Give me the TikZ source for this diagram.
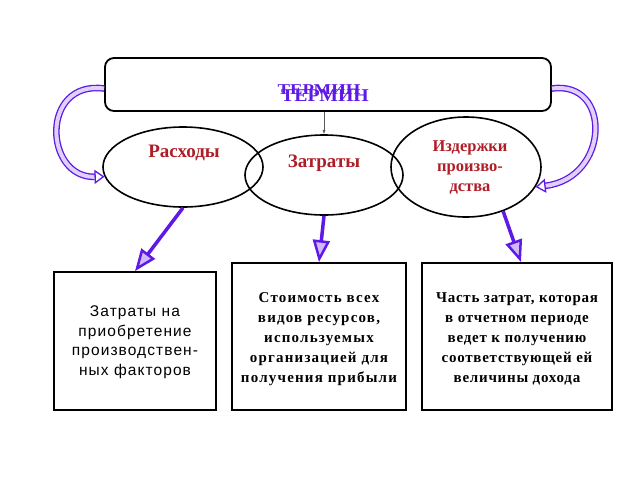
\documentclass[tikz,border=0pt]{standalone}
\usepackage{fontspec}
\setmainfont{Liberation Serif}
\newfontfamily\arialf{Liberation Sans}
\usetikzlibrary{shapes.geometric,arrows.meta}
\definecolor{apurple}{RGB}{95,25,230}
\definecolor{tred}{RGB}{175,30,40}
\tikzset{
  ell/.style={draw=black, line width=1.6pt, ellipse, inner sep=0pt},
  defbox/.style={draw=black, line width=1.8pt, inner sep=0pt},
  ovaltext/.style={text=tred, font=\bfseries\fontsize{19}{20}\selectfont, align=center},
  boxtext/.style={font=\bfseries\fontsize{15}{20}\selectfont, align=center, text=black},
  downarrow/.style={draw=apurple, line width=3.5pt, -{Triangle[length=22pt,width=17pt,fill=apurple!30,line width=2.5pt]}},
  curvedarrow/.style={draw=apurple, line width=1.3pt, double=apurple!20, double distance=4pt, -{Triangle[length=10pt,width=14pt,fill=white,line width=1.3pt]}},
  titletext/.style={text=apurple, inner sep=0pt},
}
\begin{document}
\begin{tikzpicture}[x=1pt,y=-1pt]
\useasboundingbox (0,0) rectangle (640,480);
% top box
\node[draw=black, line width=1.8pt, rounded corners=9pt, minimum width=446pt, minimum height=53pt, inner sep=0pt] (term) at (328,84.5) {};
\node[titletext, font=\bfseries\fontsize{15}{15}\selectfont] (t1) at (319,90) {\scalebox{1.25}[1]{ТЕРМИН}};
\node[titletext, font=\bfseries\fontsize{18}{18}\selectfont] (t2) at (325,96) {\scalebox{1.1}[1]{ТЕРМИН}};
% ellipses
\node[ell, minimum width=160pt, minimum height=80pt] (ras) at (183,167) {};
\node[ell, minimum width=158pt, minimum height=80pt] (zat) at (324,175) {};
\node[ell, minimum width=150pt, minimum height=100pt] (izd) at (466,167) {};
\node[ovaltext] (rast) at (184,153) {Расходы};
\node[ovaltext] (zatt) at (324,163) {Затраты};
\node[ovaltext, font=\bfseries\fontsize{16.5}{20}\selectfont] (izdt) at (470,167.5) {Издержки\\произво-\\дства};
% boxes
\node[defbox, minimum width=162pt, minimum height=138pt] (b1) at (135,341) {};
\node[defbox, minimum width=174pt, minimum height=147pt] (b2) at (319,336.5) {};
\node[defbox, minimum width=190pt, minimum height=147pt] (b3) at (517,336.5) {};
\node[font=\arialf\addfontfeature{LetterSpace=7}\fontsize{15.5}{19.5}\selectfont, align=center] (b1t) at (135,342) {Затраты на\\приобретение\\производствен-\\ных факторов};
\node[boxtext, font=\bfseries\addfontfeature{LetterSpace=8}\fontsize{15}{20}\selectfont] (b2t) at (319,339) {Стоимость всех\\видов ресурсов,\\используемых\\организацией для\\получения прибыли};
\node[boxtext, font=\bfseries\addfontfeature{LetterSpace=5}\fontsize{15}{20}\selectfont] (b3t) at (517,339) {Часть затрат, которая\\ в отчетном периоде\\ведет к получению\\соответствующей ей\\величины дохода};
% thin arrow
\draw[draw=gray!70!black, line width=0.6pt, -{Latex[length=4pt,width=3pt]}] (term.south -| zat.north) -- (zat.north);
% down arrows
\draw[downarrow] (ras.south) -- (b1.north);
\draw[downarrow] (zat.south) -- (b2.north);
\draw[downarrow] (izd.-50) -- ([xshift=4pt]b3.north);
% curved arrows
\draw[curvedarrow] ([yshift=-4pt]term.west) .. controls (40,80) and (44,178) .. (ras.187);
\draw[curvedarrow] ([yshift=-4pt]term.east) .. controls (612,80) and (610,178) .. (izd.-16);
\end{tikzpicture}
\end{document}
